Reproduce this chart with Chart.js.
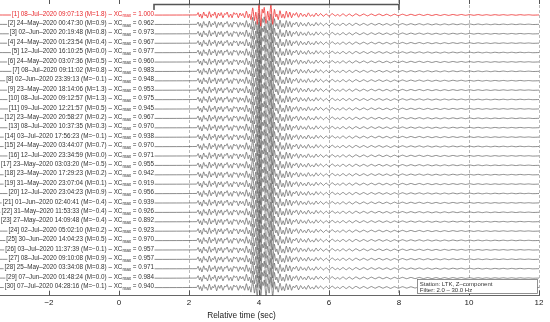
<!DOCTYPE html>
<html><head><meta charset="utf-8">
<script src="https://cdn.jsdelivr.net/npm/chart.js@4.4.1/dist/chart.umd.min.js"></script>
<style>
html,body{margin:0;padding:0;background:#fff;overflow:hidden;width:550px;height:322px;position:relative;}
#wrap{position:absolute;left:-56px;top:0;width:606px;height:322px;}
</style></head><body>
<div id="wrap"><canvas id="c" width="606" height="322"></canvas></div>
<script>
// ---- data ----
const eventDates = [
  "08–Jul–2020 09:07:13","24–May–2020 00:47:30","02–Jun–2020 20:19:48","24–May–2020 01:23:54",
  "12–Jul–2020 16:10:25","24–May–2020 03:07:36","08–Jul–2020 09:11:02","02–Jun–2020 23:39:13",
  "23–May–2020 18:14:06","08–Jul–2020 09:12:57","09–Jul–2020 12:21:57","23–May–2020 20:58:27",
  "08–Jul–2020 10:37:35","03–Jul–2020 17:56:23","24–May–2020 03:44:07","12–Jul–2020 23:34:59",
  "23–May–2020 03:03:20","23–May–2020 17:29:23","31–May–2020 23:07:04","12–Jul–2020 23:04:23",
  "01–Jun–2020 02:40:41","31–May–2020 11:53:33","27–May–2020 14:09:48","02–Jul–2020 05:02:10",
  "30–Jun–2020 14:04:23","03–Jul–2020 11:37:39","08–Jul–2020 09:10:08","25–May–2020 03:34:08",
  "07–Jun–2020 01:48:24","07–Jul–2020 04:28:16"];
const magnitudes = ["1.8","0.9","0.8","0.4","0.0","0.5","0.8","−0.1","1.3","1.3","0.5","0.2","0.3","−0.1","0.7",
  "0.0","−0.5","0.2","0.1","0.9","−0.4","−0.4","−0.4","0.2","0.5","−0.1","0.9","0.8","0.0","−0.1"];
const xcMax = [1.000,0.962,0.973,0.967,0.977,0.960,0.983,0.948,0.953,0.975,0.945,0.967,0.970,0.938,0.970,
  0.971,0.955,0.942,0.919,0.956,0.939,0.926,0.892,0.923,0.970,0.957,0.957,0.971,0.984,0.940];

// digitised waveform (time in s, amplitude in trace-spacing units)
const waveTime = [
  -5,
  2.22, 2.26, 2.30, 2.33, 2.37, 2.42, 2.46, 2.49, 2.53, 2.58,
  2.63, 2.67, 2.70, 2.74, 2.79, 2.84, 2.88, 2.92, 2.97, 3.02,
  3.05, 3.09, 3.14, 3.19, 3.23, 3.28, 3.32, 3.36, 3.41, 3.46,
  3.50, 3.54, 3.59, 3.64, 3.69, 3.73, 3.77, 3.82, 3.87, 3.91,
  3.95, 4.00, 4.05, 4.09, 4.12, 4.15, 4.20, 4.25, 4.29, 4.34,
  4.39, 4.44, 4.48, 4.51, 4.55, 4.60, 4.65, 4.69, 4.73, 4.78,
  4.83, 4.88, 4.93, 4.98, 5.02, 5.07, 5.13, 5.19, 5.25, 5.30,
  5.35, 5.41, 5.47, 5.52, 5.57, 5.63, 5.69,
  5.76, 5.84, 5.92, 6.00, 6.09, 6.18, 6.25, 6.31, 6.40, 6.49,
  6.58, 6.67, 6.77, 6.88, 6.99, 7.10, 7.21, 7.32, 7.43, 7.54,
  7.65, 7.76, 7.87, 7.98,
  8.10, 8.22, 8.34, 8.46, 8.58, 8.70, 8.82, 8.94, 9.06, 9.18,
  9.30, 9.42, 9.54, 9.66, 9.78, 9.90, 10.02, 10.14, 10.26, 10.38,
  10.50, 10.62, 10.74, 10.86, 10.98, 11.10, 11.22, 11.34, 11.46, 11.58,
  11.70, 11.82, 12.0];
const waveAmp = [
  0,
  0, 0.25, -0.20, 0.10, -0.35, 0.30, -0.10, 0.05, -0.30, 0.35,
  -0.25, 0.10, -0.05, 0.30, -0.35, 0.20, -0.10, 0.25, -0.30, 0.15,
  0.05, 0.30, -0.25, 0.10, -0.30, 0.25, 0.05, 0.20, -0.30, 0.20,
  -0.10, 0.15, -0.30, 0.40, -0.30, 0.10, -0.50, 0.75, -0.60, 0.30,
  -1.00, 1.20, -1.20, 0.60, 0.20, 0.80, -0.90, 0.40, -0.60, 1.10,
  -1.00, 0.60, -0.20, 0.10, -0.50, 0.45, -0.30, 0.10, -0.35, 0.40,
  -0.25, 0.30, -0.30, 0.15, -0.05, 0.25, -0.25, 0.20, -0.15, 0.10,
  -0.20, 0.22, -0.15, 0.05, -0.18, 0.20, -0.12,
  0.15, -0.15, 0.12, -0.15, 0.14, -0.10, 0.05, -0.12, 0.12, -0.12,
  0.10, -0.12, 0.12, -0.10, 0.10, -0.10, 0.10, -0.08, 0.10, -0.08,
  0.08, -0.10, 0.08, -0.08,
  0.08, -0.07, 0.07, -0.06, 0.07, -0.06, 0.06, -0.06, 0.05, -0.06,
  0.05, -0.05, 0.05, -0.04, 0.05, -0.04, 0.04, -0.04, 0.04, -0.04,
  0.03, -0.04, 0.03, -0.03, 0.03, -0.03, 0.03, -0.03, 0.03, -0.02,
  0.02, -0.02, 0];

const xTicks = [-2, 0, 2, 4, 6, 8, 10, 12];
const windowRange = [1.0, 8.0];
const infoLines = ["Station: LTK, Z–component", "Filter: 2.0 – 30.0 Hz"];
const axisTitle = "Relative time (sec)";

// ---- build datasets ----
const datasets = eventDates.map((d, i) => ({
  data: waveTime.map((t, k) => ({x: t, y: waveAmp[k] - i})),
  borderColor: i === 0 ? '#ee2a2a' : '#505050',
  borderWidth: i === 0 ? 0.8 : 0.65,
  pointRadius: 0,
  tension: 0.15,
  order: i === 0 ? 0 : 1
}));

const FONT = '"Liberation Sans", Arial, sans-serif';

const deco = {
  id: 'deco',
  afterDatasetsDraw(chart) {
    const {ctx, chartArea: ca, scales: {x, y}} = chart;
    ctx.save();
    // inward ticks
    ctx.strokeStyle = '#555'; ctx.lineWidth = 1;
    xTicks.forEach(v => {
      const px = Math.round(x.getPixelForValue(v)) + 0.5;
      ctx.beginPath();
      ctx.moveTo(px, ca.bottom); ctx.lineTo(px, ca.bottom - 5);
      ctx.moveTo(px, ca.top); ctx.lineTo(px, ca.top + 4);
      ctx.stroke();
    });
    // window bracket
    const bx0 = x.getPixelForValue(windowRange[0]), bx1 = x.getPixelForValue(windowRange[1]);
    ctx.strokeStyle = '#555'; ctx.lineWidth = 1.6;
    ctx.beginPath();
    ctx.moveTo(bx0, ca.top + 10); ctx.lineTo(bx0, ca.top + 4.5);
    ctx.lineTo(bx1, ca.top + 4.5); ctx.lineTo(bx1, ca.top + 10);
    ctx.stroke();
    // trace labels
    const fs = 6.3, fsSub = 4.6;
    const xr = x.getPixelForValue(windowRange[0]);
    eventDates.forEach((d, i) => {
      const py = y.getPixelForValue(-i);
      const main = `[${i + 1}] ${d} (M=${magnitudes[i]}) – XC`;
      const sub = 'max';
      const tail = ` = ${xcMax[i].toFixed(3)}`;
      ctx.font = `${fs}px ${FONT}`;
      const wMain = ctx.measureText(main).width, wTail = ctx.measureText(tail).width;
      ctx.font = `${fsSub}px ${FONT}`;
      const wSub = ctx.measureText(sub).width;
      const total = wMain + wSub + wTail;
      const x0 = xr - total;
      const cy = py - 1;
      ctx.fillStyle = '#fff';
      ctx.fillRect(x0 - 1, cy - 4, total + 1.5, 8);
      ctx.fillStyle = i === 0 ? '#e8262a' : '#333';
      ctx.textBaseline = 'middle'; ctx.textAlign = 'left';
      ctx.font = `${fs}px ${FONT}`;
      ctx.fillText(main, x0, cy);
      ctx.font = `${fsSub}px ${FONT}`;
      ctx.fillText(sub, x0 + wMain, cy + 2);
      ctx.font = `${fs}px ${FONT}`;
      ctx.fillText(tail, x0 + wMain + wSub, cy);
    });
    // info box
    const lx = x.getPixelForValue(8.51), rx = x.getPixelForValue(11.95);
    const ty = ca.bottom - 16, by = ca.bottom - 2;
    ctx.fillStyle = '#fff';
    ctx.fillRect(lx, ty, rx - lx, by - ty);
    ctx.strokeStyle = '#777'; ctx.lineWidth = 0.8;
    ctx.strokeRect(Math.round(lx) + 0.5, Math.round(ty) + 0.5, Math.round(rx - lx), Math.round(by - ty));
    ctx.fillStyle = '#333'; ctx.font = `6px ${FONT}`; ctx.textBaseline = 'middle';
    ctx.fillText(infoLines[0], lx + 3, ty + 4.5);
    ctx.fillText(infoLines[1], lx + 3, ty + 10.5);
    ctx.restore();
  }
};

new Chart(document.getElementById('c'), {
  type: 'line',
  data: {datasets},
  options: {
    responsive: false,
    animation: false,
    events: [],
    layout: {padding: {left: 0, right: 11, top: 0, bottom: 0}},
    plugins: {legend: {display: false}, tooltip: {enabled: false}},
    scales: {
      x: {
        type: 'linear', min: -5, max: 12,
        afterBuildTicks: s => { s.ticks = xTicks.map(v => ({value: v})); },
        ticks: {
          font: {size: 8, family: FONT}, color: '#222', padding: 3, maxRotation: 0,
          callback: v => String(v).replace('-', '−')
        },
        grid: {
          drawTicks: false,
          color: c => (c.tick && c.tick.value >= 2) ? '#9a9a9a' : 'rgba(0,0,0,0)',
          lineWidth: 0.7
        },
        border: {display: true, color: '#666', width: 1, dash: [3, 2]},
        title: {display: true, text: axisTitle, font: {size: 8.3, family: FONT}, color: '#222', padding: {top: 0, bottom: 1}}
      },
      y: {
        type: 'linear', min: -29.85, max: 1.59, display: false
      }
    }
  },
  plugins: [deco]
});
</script>
</body></html>
